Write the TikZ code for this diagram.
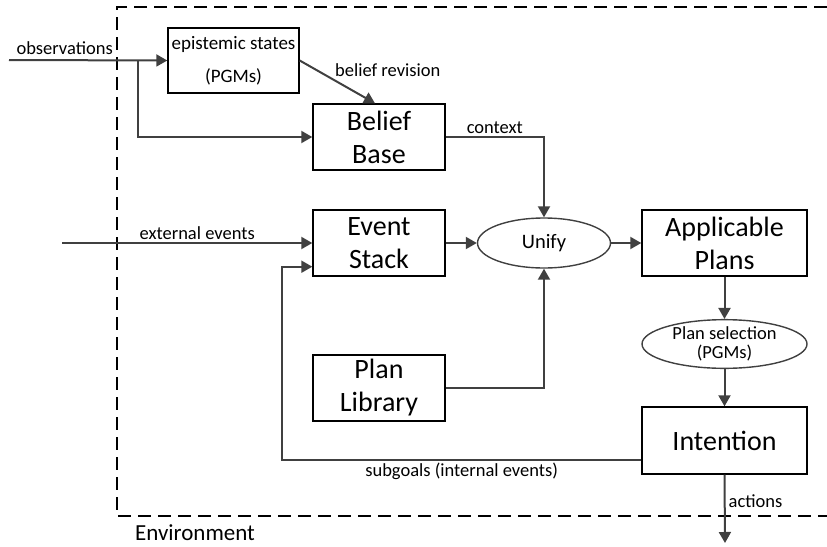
\documentclass[tikz,border=0pt]{standalone}
\usepackage{fontspec}
\setmainfont{Carlito}
\usepackage{tikz}
\usetikzlibrary{shapes.geometric, arrows.meta, positioning, calc}
\definecolor{flowgray}{HTML}{404040}

\begin{document}
\begin{tikzpicture}[
    x=1pt, y=-1pt,
    box/.style={rectangle, draw=black, line width=1.4pt, fill=white, minimum width=132pt, minimum height=66pt, inner sep=0pt, align=center, font=\fontsize{28}{33}\selectfont},
    widebox/.style={box, minimum width=165pt},
    smallbox/.style={box, minimum width=131pt, minimum height=65pt, font=\fontsize{19}{33}\selectfont},
    oval/.style={ellipse, draw=flowgray, line width=1.4pt, fill=white, text=black, inner sep=0pt, align=center},
    lbl/.style={font=\fontsize{18.5}{20}\selectfont, text=black, inner sep=2pt},
    arrow/.style={-{Triangle[length=11pt, width=12pt]}, line width=2pt, color=flowgray},
    line/.style={line width=2pt, color=flowgray}
]
\useasboundingbox (0,0) rectangle (827,546);

% Environment boundary
\draw[line width=2pt, dash pattern=on 13pt off 7pt] (827,7) -- (117,7) -- (117,516) -- (827,516);
\node[font=\fontsize{23}{24}\selectfont] (envlbl) at (195,533) {Environment};

% Agent components
\node[smallbox] (epi) at (233.5,60.5) {epistemic states\\(PGMs)};
\node[box] (belief) at (379,137) {Belief\\Base};
\node[box] (event) at (379,243) {Event\\Stack};
\node[box] (library) at (379,388) {Plan\\Library};
\node[oval, minimum width=133pt, minimum height=50pt, font=\fontsize{20.5}{22}\selectfont] (unify) at (544,243) {Unify};
\node[widebox] (applicable) at (724.5,243) {Applicable\\Plans};
\node[oval, minimum width=165pt, minimum height=48pt, font=\fontsize{18.5}{19}\selectfont] (plansel) at (724.5,344) {Plan selection\\(PGMs)};
\node[widebox, minimum height=67pt] (intention) at (724.5,440.5) {Intention};

% Free ends
\coordinate (obsin) at (9,60);
\coordinate (obsturn) at (138,60);
\coordinate (extin) at (62,243);
\coordinate (sgturn) at (282,460);
\coordinate (actout) at (725,543);

% Inputs
\draw[arrow] (obsin) -- (epi.west);
\node[lbl, anchor=south east] (obslbl) at (115,57) {observations};
\draw[arrow] (obsturn) |- (belief.west);
\draw[arrow] (epi.east) -- ($(belief.north)+(-4,0)$);
\node[lbl, anchor=west] (revlbl) at (333,70) {belief revision};
\draw[arrow] (extin) -- (event.west) node[lbl, pos=0.54, above] (extlbl) {external events};

% Reasoning cycle
\draw[arrow] (belief.east) -| (unify.north) node[lbl, pos=0.25, above] (ctxlbl) {context};
\draw[arrow] (event.east) -- (unify.west);
\draw[arrow] (library.east) -| (unify.south);
\draw[arrow] (unify.east) -- (applicable.west);
\draw[arrow] (applicable.south) -- (plansel.north);
\draw[arrow] (plansel.south) -- (intention.north);

% Feedback and output
\draw[arrow] (intention.west |- sgturn) -- (sgturn) node[lbl, midway, below] (sglbl) {subgoals (internal events)} |- ($(event.south west)+(0,-10)$);
\draw[arrow] (intention.south) -- (actout) node[lbl, pos=0.39, anchor=west, xshift=1pt] (actlbl) {actions};

\end{tikzpicture}
\end{document}
